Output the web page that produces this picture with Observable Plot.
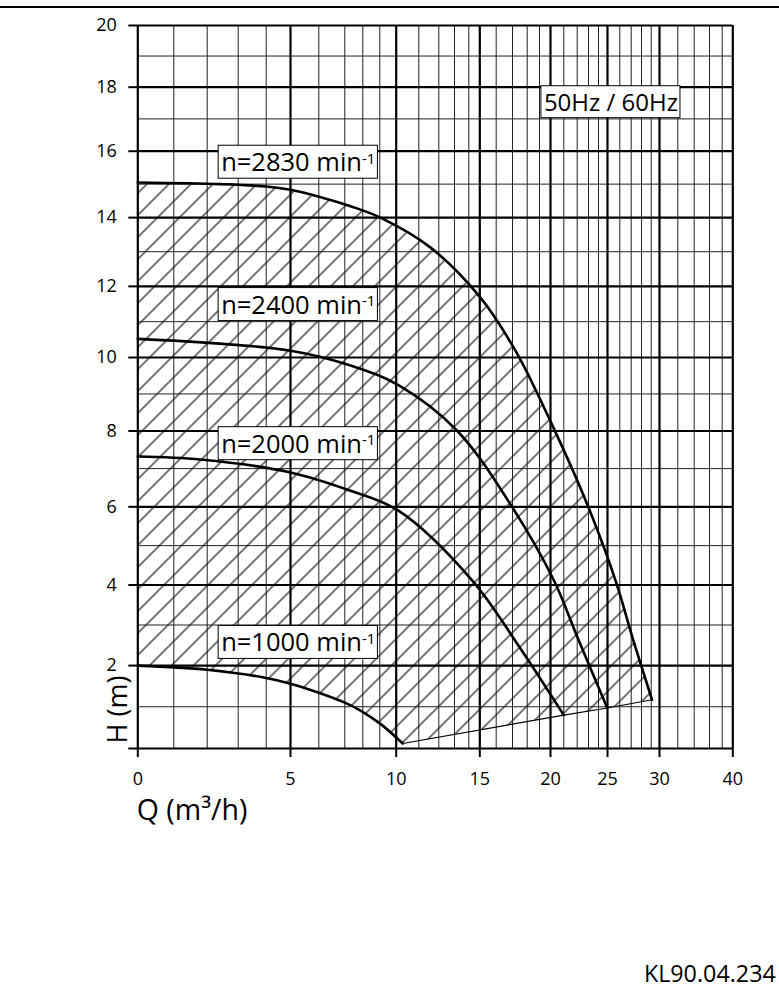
<!DOCTYPE html>
<html><head><meta charset="utf-8">
<script src="https://cdn.jsdelivr.net/npm/d3@7"></script>
<script src="https://cdn.jsdelivr.net/npm/@observablehq/plot@0.6"></script>
<style>
html,body{margin:0;padding:0;background:#fff;}
#chart{position:relative;width:779px;height:1003px;overflow:hidden;}
#topline{position:absolute;left:0;top:6px;width:779px;height:0;border-top:2.5px solid #000;}
</style></head><body><div id="chart"><div id="topline"></div></div>
<script>
// ---------- data ----------
const gridQ = [0,1,2,3,4,5,6,7,8,9,10,11,12,13,14,15,16,17,18,19,20,21,22,23,24,25,26,27,28,29,30,32,34,36,38,40];
const majorQ = [0,5,10,15,20,25,30,40];
const gridH = [0,1,2,3,4,5,6,7,8,9,10,11,12,13,14,15,16,17,18,19,20];
const majorH = [0,2,4,6,8,10,12,14,16,18,20];

const q2830 = [0, 2.43, 4, 5, 6.07, 7.32, 9.04, 11.59, 15.04, 17.2, 20, 22.91, 25.65, 27.22, 29.1];
const h2830 = [15.05, 15.0, 14.93, 14.83, 14.61, 14.34, 14.0, 13.12, 11.68, 10.19, 8.26, 6.05, 4.12, 2.61, 1.17];
const q2400 = [0, 5, 7.32, 10.1, 13.2, 17, 20.25, 22.03, 24.97];
const h2400 = [10.52, 10.19, 9.78, 9.24, 8.0, 5.98, 4.12, 2.69, 0.97];
const q2000 = [0, 1.8, 5, 7.32, 10.1, 14.3, 17.32, 21];
const h2000 = [7.32, 7.24, 6.9, 6.42, 5.9, 4.12, 2.54, 0.8];
const q1000 = [0, 2, 4, 5, 6, 7, 7.87, 9.04, 10.29];
const h1000 = [2.0, 1.9, 1.7, 1.56, 1.34, 1.1, 0.91, 0.59, 0.12];
const qEnv = [10.29, 21, 24.97, 29.1];
const hEnv = [0.12, 0.8, 0.97, 1.17];

const labelText = ["n=2830 min", "n=2400 min", "n=2000 min", "n=1000 min"];
const labelQ = [2.45, 2.45, 2.45, 2.45];
const labelH = [15.64, 11.46, 7.64, 2.55];
const freqText = ["50Hz / 60Hz"];
const freqQ = [19.4];
const freqH = [17.5];

// ---------- scale layout (non-uniform paper grid) ----------
const xScaleRange = [137.3,173.3,206.7,237.7,265.7,290,318.3,344.3,362.3,379.3,395.7,418.3,438.3,454,468.3,479.3,495.7,512,526.7,539,550,563.3,576.7,588,598,607,619.3,630.7,641,650.7,659,677.3,693.7,709,721.7,732.3];
const yPix = h => 748 - 42.05 * h + 0.295 * h * h;
const yScaleRange = gridH.map(yPix);

const W = 779, Hh = 1003;
const mL = 137.3, mR = W - 732.3, mT = 25, mB = Hh - 748;

const pts = (qs, hs) => qs.map((q, i) => ({q, h: hs[i]}));
const c2830 = pts(q2830, h2830), c2400 = pts(q2400, h2400), c2000 = pts(q2000, h2000), c1000 = pts(q1000, h1000), env = pts(qEnv, hEnv);
const hatchPoly = [...c1000, ...env.slice(1), ...c2830.slice().reverse().slice(1)];
const labels = labelText.map((t, i) => ({t, q: labelQ[i], h: labelH[i]}));
const freq = freqText.map((t, i) => ({t, q: freqQ[i], h: freqH[i]}));

const FONT = "Open Sans, Noto Sans, sans-serif";
const curveStyle = {x: "q", y: "h", stroke: "#000", strokeWidth: 2.6, curve: "catmull-rom"};

const chart = Plot.plot({
  width: W, height: Hh,
  marginLeft: mL, marginRight: mR, marginTop: mT, marginBottom: mB,
  style: {fontFamily: FONT, fontSize: "18px", color: "#000", background: "transparent"},
  x: {type: "linear", domain: gridQ, range: xScaleRange},
  y: {type: "linear", domain: gridH, range: yScaleRange},
  marks: [
    Plot.line(hatchPoly, {x: "q", y: "h", fill: "url(#hatch)", stroke: "none", curve: "linear"}),
    Plot.ruleX(gridQ.filter(d => !majorQ.includes(d)), {stroke: "#222", strokeWidth: 1}),
    Plot.ruleY(gridH.filter(d => !majorH.includes(d)), {stroke: "#222", strokeWidth: 1}),
    Plot.ruleX(majorQ, {stroke: "#000", strokeWidth: 2.2}),
    Plot.ruleY(majorH, {stroke: "#000", strokeWidth: 2.2}),
    Plot.line(env, {x: "q", y: "h", stroke: "#000", strokeWidth: 1.2}),
    Plot.line(c2830, curveStyle),
    Plot.line(c2400, curveStyle),
    Plot.line(c2000, curveStyle),
    Plot.line(c1000, curveStyle),
    Plot.text(labels, {x: "q", y: "h", text: "t", textAnchor: "start", lineAnchor: "middle", fontSize: 25.5, fill: "#000"}),
    Plot.text(freq, {x: "q", y: "h", text: "t", textAnchor: "start", lineAnchor: "middle", fontSize: 24, fill: "#000"}),
    Plot.axisX(majorQ, {anchor: "bottom", tickSize: 9, tickPadding: 15, strokeWidth: 2, stroke: "#000", fontSize: 18, label: null}),
    Plot.axisY(majorH, {anchor: "left", tickSize: 9, tickPadding: 12, strokeWidth: 2, stroke: "#000", fontSize: 18, label: null, tickFormat: d => d === 0 ? "" : String(d)}),
    Plot.text(["Q (m³/h)"], {frameAnchor: "bottom-left", text: d => d, textAnchor: "start", lineAnchor: "middle", dx: -1, dy: 62, fontSize: 28.5, fill: "#000"}),
    Plot.text(["H (m)"], {frameAnchor: "bottom-left", text: d => d, rotate: -90, textAnchor: "start", lineAnchor: "middle", dx: -19, dy: -5, fontSize: 27, fill: "#000"}),
    Plot.text(["KL90.04.234"], {frameAnchor: "bottom-right", text: d => d, textAnchor: "end", lineAnchor: "middle", dx: 43, dy: 226, fontSize: 23.3, fill: "#000"})
  ]
});

document.getElementById("chart").appendChild(chart);

// hatch pattern definition
const ns = "http://www.w3.org/2000/svg";
const defs = document.createElementNS(ns, "defs");
defs.innerHTML = '<pattern id="hatch" patternUnits="userSpaceOnUse" width="22" height="22">' +
  '<path d="M-3,3 L3,-3 M0,22 L22,0 M19,25 L25,19" stroke="#000" stroke-width="1.1" fill="none"/></pattern>';
chart.insertBefore(defs, chart.firstChild);

// superscripts and white label boxes
chart.querySelectorAll("text").forEach(t => {
  const s = t.textContent;
  const isRpm = /^n=\d+ min$/.test(s);
  const isFreq = /Hz/.test(s);
  if (!isRpm && !isFreq) return;
  if (isRpm) {
    const ts = document.createElementNS(ns, "tspan");
    ts.setAttribute("dy", "-0.5em");
    ts.setAttribute("font-size", "15");
    ts.textContent = "-1";
    t.appendChild(ts);
  }
  const b = t.getBBox();
  const r = document.createElementNS(ns, "rect");
  r.setAttribute("x", b.x - 3); r.setAttribute("y", b.y + 1);
  r.setAttribute("width", b.width + 5); r.setAttribute("height", b.height - 1);
  r.setAttribute("fill", "#fff"); r.setAttribute("stroke", "#000"); r.setAttribute("stroke-width", "1");
  const tr = t.getAttribute("transform");
  if (tr) r.setAttribute("transform", tr);
  t.parentNode.insertBefore(r, t);
});
</script></body></html>
